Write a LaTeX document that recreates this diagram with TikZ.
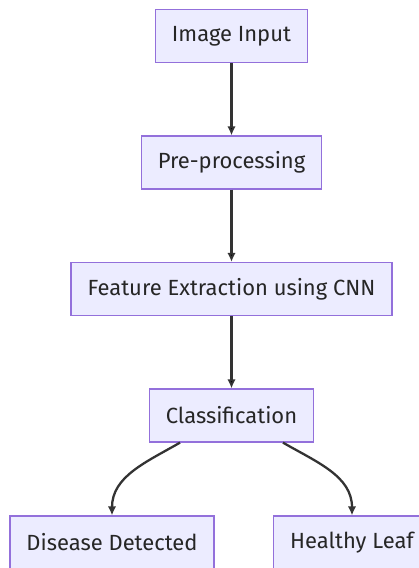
\documentclass[tikz,border=0pt]{standalone}
\usepackage{fontspec}
\setmainfont{Fira Sans}
\usetikzlibrary{positioning, arrows.meta}
\definecolor{boxfill}{HTML}{ECECFF}
\definecolor{boxline}{HTML}{9370DB}
\definecolor{edgecol}{HTML}{333333}
\tikzset{
    >={Latex[length=1.8mm, width=1.7mm]}, % Small filled arrowheads
    every box/.style={draw=boxline, fill=boxfill, line width=0.7pt,
        minimum height=1.06cm, inner xsep=0.33cm, font=\fontsize{12.5}{14}\selectfont,
        text=black!85}, % Styling for steps
    flow/.style={->, draw=edgecol, line width=1.3pt},
}

\begin{document}
\begin{tikzpicture}[node distance=2.53cm, on grid]
    \useasboundingbox (0,0) rectangle (8.36,-11.36);
    % Steps
    \node[every box] (input) at (4.63,-0.72) {Image Input};
    \node[every box] (prep) [below=of input] {Pre-processing};
    \node[every box] (cnn) [below=of prep] {Feature Extraction using CNN};
    \node[every box] (classify) [below=of cnn] {Classification};
    \node[every box] (disease) [below left=2.54cm and 2.39cm of classify] {Disease Detected};
    \node[every box] (healthy) [below right=2.54cm and 2.41cm of classify] {Healthy Leaf};

    \path[flow]
        (input) edge (prep)
        (prep) edge (cnn)
        (cnn) edge (classify);
    % Two outcomes curve away from the classifier
    \draw[flow] ([xshift=-1.03cm]classify.south) to[out=-150, in=90] (disease.north);
    \draw[flow] ([xshift=1.03cm]classify.south) to[out=-30, in=90] (healthy.north);
\end{tikzpicture}
\end{document}
